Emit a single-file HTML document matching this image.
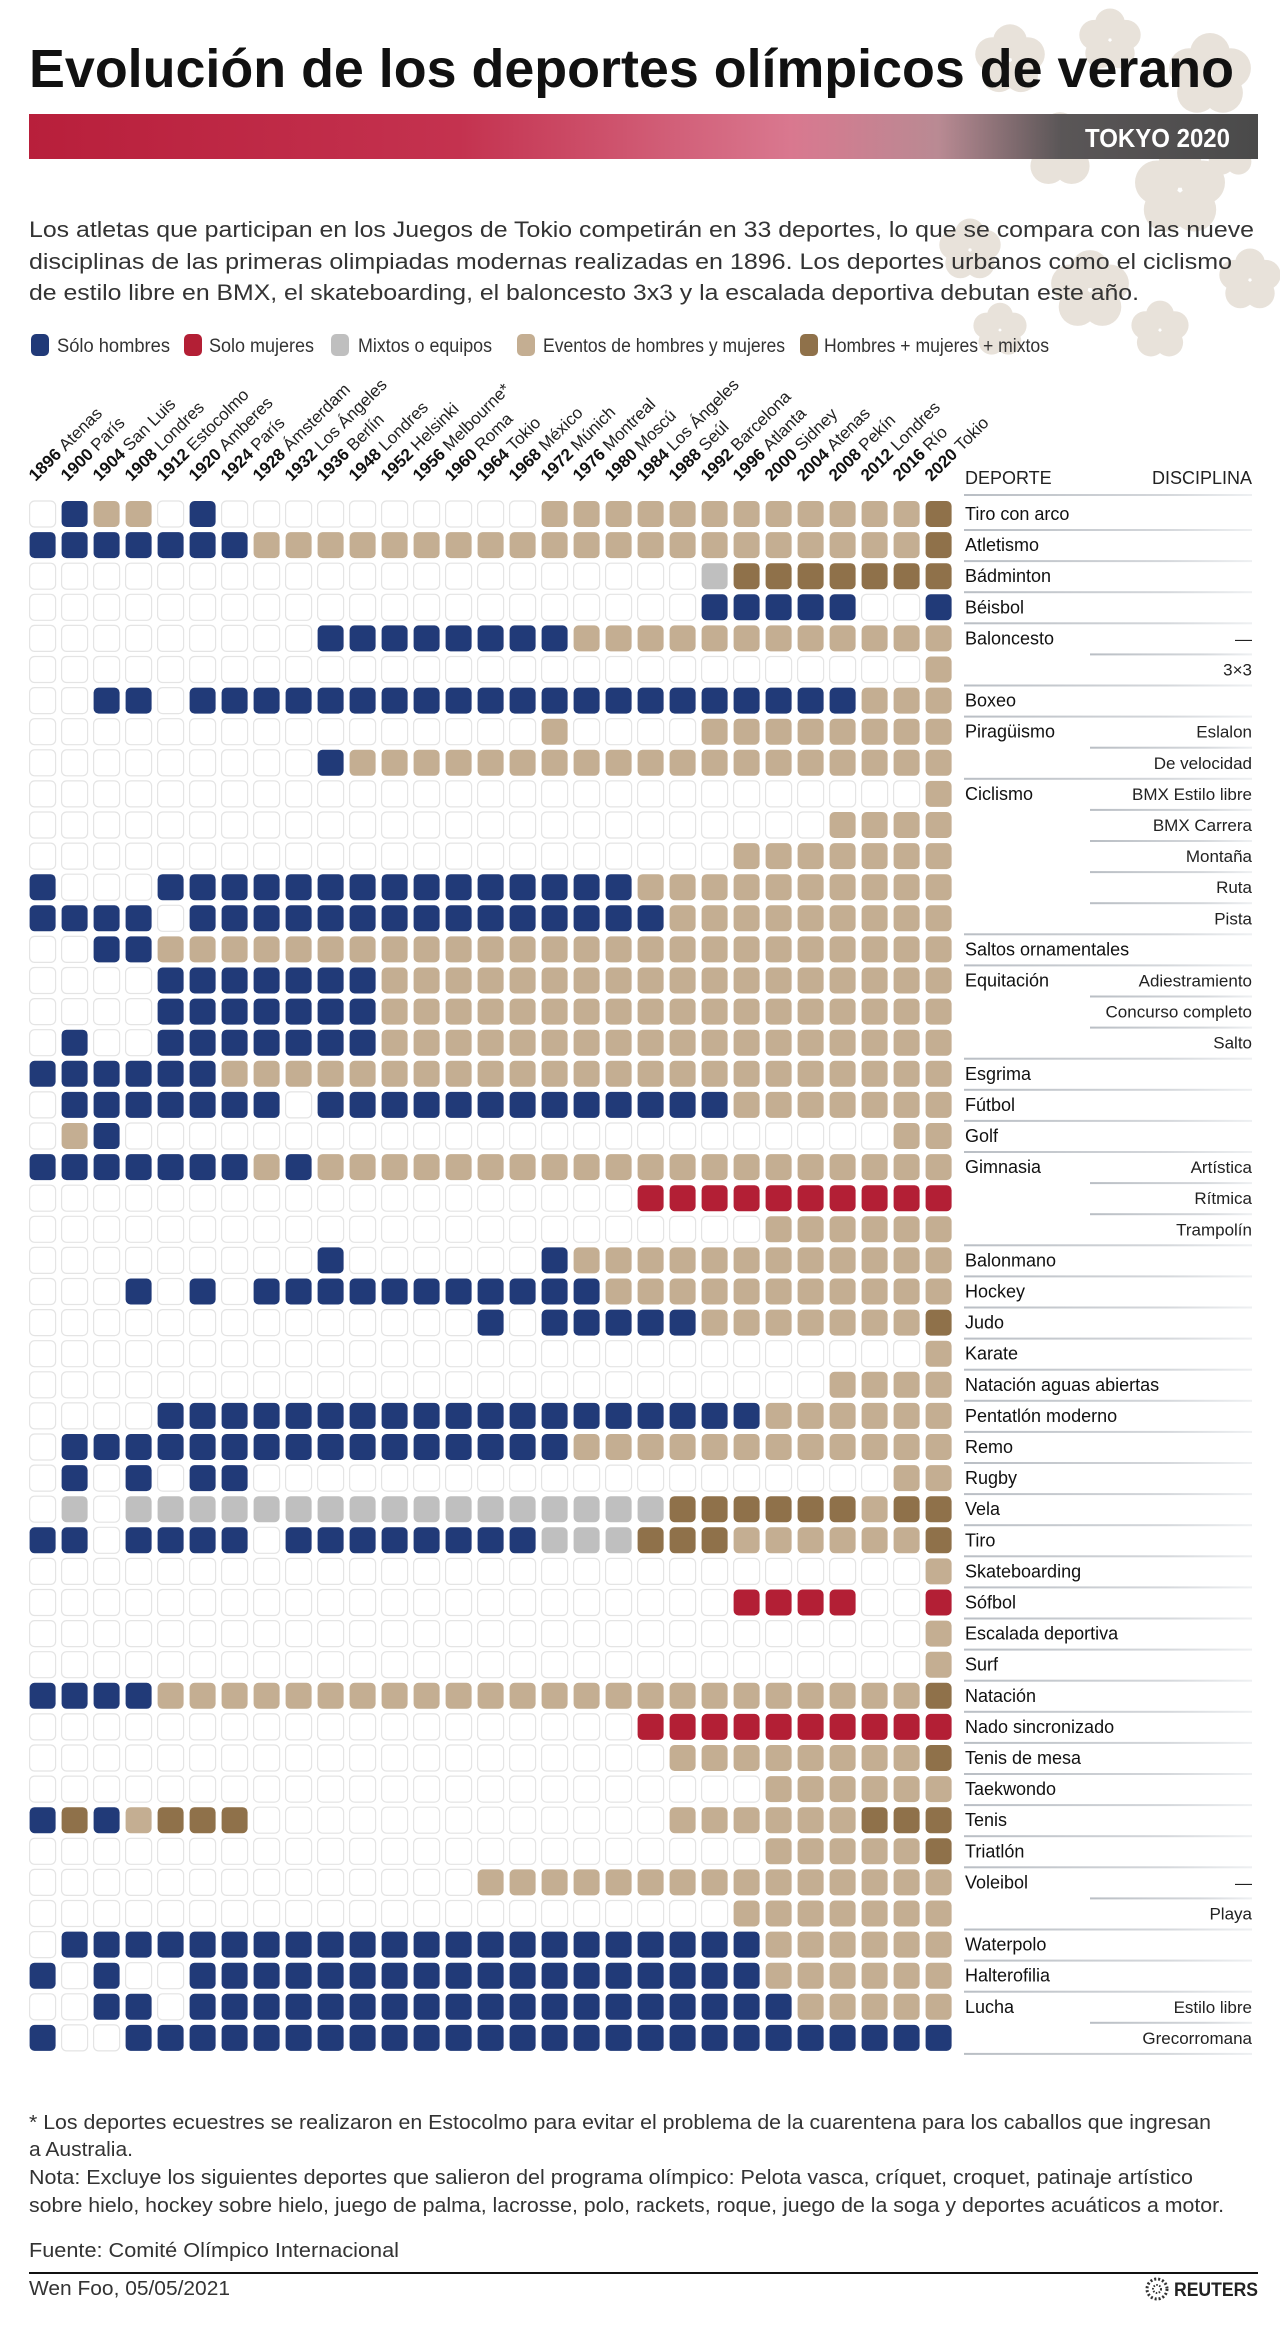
<!DOCTYPE html>
<html lang="es">
<head>
<meta charset="utf-8">
<title>Evolución de los deportes olímpicos de verano</title>
<style>
  html,body{margin:0;padding:0;background:#fff;}
  svg{display:block;}
  text{font-family:"Liberation Sans", sans-serif;}
</style>
</head>
<body>
<svg id="chart" width="1280" height="2330" viewBox="0 0 1280 2330" xmlns="http://www.w3.org/2000/svg">
  <defs>
    <linearGradient id="bannerGrad" x1="0" x2="1" y1="0" y2="0">
      <stop offset="0" stop-color="#b81f3b"/>
      <stop offset="0.35" stop-color="#c4324f"/>
      <stop offset="0.62" stop-color="#d9788f"/>
      <stop offset="0.74" stop-color="#b98a93"/>
      <stop offset="0.84" stop-color="#5a5657"/>
      <stop offset="1" stop-color="#4a4a4a"/>
    </linearGradient>
    <linearGradient id="divGrad" x1="0" x2="1" y1="0" y2="0">
      <stop offset="0" stop-color="#b9bec4"/>
      <stop offset="0.7" stop-color="#d4d7db"/>
      <stop offset="1" stop-color="#eef0f2"/>
    </linearGradient>
  </defs>

  <g id="sakura" fill="#d6cbbd" opacity="0.55"></g>

  <text x="29" y="87" font-size="54" font-weight="bold" fill="#111" textLength="1205" lengthAdjust="spacingAndGlyphs">Evolución de los deportes olímpicos de verano</text>

  <rect x="29" y="114" width="1229" height="45" fill="url(#bannerGrad)"/>
  <text x="1230" y="147" font-size="26" font-weight="bold" fill="#fff" text-anchor="end" textLength="145" lengthAdjust="spacingAndGlyphs">TOKYO 2020</text>

  <g fill="#333" font-size="22">
    <text x="29" y="237" textLength="1225" lengthAdjust="spacingAndGlyphs">Los atletas que participan en los Juegos de Tokio competirán en 33 deportes, lo que se compara con las nueve</text>
    <text x="29" y="269" textLength="1203" lengthAdjust="spacingAndGlyphs">disciplinas de las primeras olimpiadas modernas realizadas en 1896. Los deportes urbanos como el ciclismo</text>
    <text x="29" y="300" textLength="1110" lengthAdjust="spacingAndGlyphs">de estilo libre en BMX, el skateboarding, el baloncesto 3x3 y la escalada deportiva debutan este año.</text>
  </g>

  <g id="legend" font-size="19" fill="#333">
    <rect x="31" y="334" width="18" height="22" rx="5" fill="#213a78"/>
    <text x="57" y="352" textLength="113" lengthAdjust="spacingAndGlyphs">Sólo hombres</text>
    <rect x="184" y="334" width="18" height="22" rx="5" fill="#b31f35"/>
    <text x="209" y="352" textLength="105" lengthAdjust="spacingAndGlyphs">Solo mujeres</text>
    <rect x="331" y="334" width="18" height="22" rx="5" fill="#bfbfbf"/>
    <text x="358" y="352" textLength="134" lengthAdjust="spacingAndGlyphs">Mixtos o equipos</text>
    <rect x="517" y="334" width="18" height="22" rx="5" fill="#c4ae92"/>
    <text x="543" y="352" textLength="242" lengthAdjust="spacingAndGlyphs">Eventos de hombres y mujeres</text>
    <rect x="800" y="334" width="18" height="22" rx="5" fill="#8f714a"/>
    <text x="824" y="352" textLength="225" lengthAdjust="spacingAndGlyphs">Hombres + mujeres + mixtos</text>
  </g>

  <g id="yearLabels"></g>

  <text x="965" y="484" font-size="18" fill="#222">DEPORTE</text>
  <text x="1252" y="484" font-size="18" fill="#222" text-anchor="end">DISCIPLINA</text>
  <rect x="964" y="494" width="288" height="2" fill="url(#divGrad)"/>

  <g id="grid"></g>
  <g id="rowLabels"></g>

  <g fill="#333" font-size="20">
    <text x="29" y="2129" textLength="1182" lengthAdjust="spacingAndGlyphs">* Los deportes ecuestres se realizaron en Estocolmo para evitar el problema de la cuarentena para los caballos que ingresan</text>
    <text x="29" y="2156" textLength="104" lengthAdjust="spacingAndGlyphs">a Australia.</text>
    <text x="29" y="2184" textLength="1164" lengthAdjust="spacingAndGlyphs">Nota: Excluye los siguientes deportes que salieron del programa olímpico: Pelota vasca, críquet, croquet, patinaje artístico</text>
    <text x="29" y="2212" textLength="1195" lengthAdjust="spacingAndGlyphs">sobre hielo, hockey sobre hielo, juego de palma, lacrosse, polo, rackets, roque, juego de la soga y deportes acuáticos a motor.</text>
    <text x="29" y="2257" textLength="370" lengthAdjust="spacingAndGlyphs">Fuente: Comité Olímpico Internacional</text>
  </g>
  <rect x="29" y="2272" width="1229" height="2" fill="#111"/>
  <text x="29" y="2295" font-size="20" fill="#333" textLength="201" lengthAdjust="spacingAndGlyphs">Wen Foo, 05/05/2021</text>
  <g>
    <circle cx="1157" cy="2289" r="10" fill="none" stroke="#333" stroke-width="3" stroke-dasharray="2 2"/>
    <circle cx="1157" cy="2289" r="4" fill="none" stroke="#333" stroke-width="2" stroke-dasharray="1.5 1.5"/>
    <text x="1258" y="2296" font-size="19" font-weight="bold" fill="#222" text-anchor="end" textLength="84" lengthAdjust="spacingAndGlyphs">REUTERS</text>
  </g>
</svg>

<script>
const years = ["1896","1900","1904","1908","1912","1920","1924","1928","1932","1936","1948","1952","1956","1960","1964","1968","1972","1976","1980","1984","1988","1992","1996","2000","2004","2008","2012","2016","2020"];
const cities = ["Atenas","París","San Luis","Londres","Estocolmo","Amberes","París","Ámsterdam","Los Ángeles","Berlín","Londres","Helsinki","Melbourne*","Roma","Tokio","México","Múnich","Montreal","Moscú","Los Ángeles","Seúl","Barcelona","Atlanta","Sidney","Atenas","Pekín","Londres","Río","Tokio"];
const sports = ["Tiro con arco","Atletismo","Bádminton","Béisbol","Baloncesto","","Boxeo","Piragüismo","","Ciclismo","","","","","Saltos ornamentales","Equitación","","","Esgrima","Fútbol","Golf","Gimnasia","","","Balonmano","Hockey","Judo","Karate","Natación aguas abiertas","Pentatlón moderno","Remo","Rugby","Vela","Tiro","Skateboarding","Sófbol","Escalada deportiva","Surf","Natación","Nado sincronizado","Tenis de mesa","Taekwondo","Tenis","Triatlón","Voleibol","","Waterpolo","Halterofilia","Lucha",""];
const disciplines = ["","","","","—","3×3","","Eslalon","De velocidad","BMX Estilo libre","BMX Carrera","Montaña","Ruta","Pista","","Adiestramiento","Concurso completo","Salto","","","","Artística","Rítmica","Trampolín","","","","","","","","","","","","","","","","","","","","","—","Playa","","","Estilo libre","Grecorromana"];
// M = sólo hombres, W = solo mujeres, G = mixtos o equipos, B = hombres y mujeres, X = hombres + mujeres + mixtos, . = no celebrado
const cellStatus = [
".MBB.M..........BBBBBBBBBBBBX",
"MMMMMMMBBBBBBBBBBBBBBBBBBBBBX",
".....................GXXXXXXX",
".....................MMMMM..M",
".........MMMMMMMMBBBBBBBBBBBB",
"............................B",
"..MM.MMMMMMMMMMMMMMMMMMMMMBBB",
"................B....BBBBBBBB",
".........MBBBBBBBBBBBBBBBBBBB",
"............................B",
".........................BBBB",
"......................BBBBBBB",
"M...MMMMMMMMMMMMMMMBBBBBBBBBB",
"MMMM.MMMMMMMMMMMMMMMBBBBBBBBB",
"..MMBBBBBBBBBBBBBBBBBBBBBBBBB",
"....MMMMMMMBBBBBBBBBBBBBBBBBB",
"....MMMMMMMBBBBBBBBBBBBBBBBBB",
".M..MMMMMMMBBBBBBBBBBBBBBBBBB",
"MMMMMMBBBBBBBBBBBBBBBBBBBBBBB",
".MMMMMMM.MMMMMMMMMMMMMBBBBBBB",
".BM........................BB",
"MMMMMMMBMBBBBBBBBBBBBBBBBBBBB",
"...................WWWWWWWWWW",
".......................BBBBBB",
".........M......MBBBBBBBBBBBB",
"...M.M.MMMMMMMMMMMBBBBBBBBBBB",
"..............M.MMMMMBBBBBBBX",
"............................B",
".........................BBBB",
"....MMMMMMMMMMMMMMMMMMMBBBBBB",
".MMMMMMMMMMMMMMMMBBBBBBBBBBBB",
".M.M.MM....................BB",
".G.GGGGGGGGGGGGGGGGGXXXXXXBXX",
"MM.MMMM.MMMMMMMMGGGXXXBBBBBBX",
"............................B",
"......................WWWW..W",
"............................B",
"............................B",
"MMMMBBBBBBBBBBBBBBBBBBBBBBBBX",
"...................WWWWWWWWWW",
"....................BBBBBBBBX",
".......................BBBBBB",
"MXMBXXX.............BBBBBBXXX",
".......................BBBBBX",
"..............BBBBBBBBBBBBBBB",
"......................BBBBBBB",
".MMMMMMMMMMMMMMMMMMMMMMBBBBBB",
"M.M..MMMMMMMMMMMMMMMMMMBBBBBB",
"..MM.MMMMMMMMMMMMMMMMMMMBBBBB",
"M..MMMMMMMMMMMMMMMMMMMMMMMMMM"
];
const statusColors = {M:"#213a78", W:"#b31f35", G:"#bfbfbf", B:"#c4ae92", X:"#8f714a"};

const NS = "http://www.w3.org/2000/svg";
const colX = i => 42.6 + 32 * i;      // column centre
const rowY = r => 514 + 31.1 * r;     // row centre
const CW = 26, CH = 26;

const grid = document.getElementById('grid');
for (let r = 0; r < cellStatus.length; r++) {
  for (let c = 0; c < years.length; c++) {
    const s = cellStatus[r][c] || '.';
    const rect = document.createElementNS(NS, 'rect');
    rect.setAttribute('x', (colX(c) - CW / 2).toFixed(1));
    rect.setAttribute('y', (rowY(r) - CH / 2).toFixed(1));
    rect.setAttribute('width', CW);
    rect.setAttribute('height', CH);
    rect.setAttribute('rx', 5);
    if (s === '.') {
      rect.setAttribute('fill', '#fff');
      rect.setAttribute('stroke', '#e4e4e4');
      rect.setAttribute('stroke-width', '1.2');
    } else {
      rect.setAttribute('fill', statusColors[s]);
    }
    
    
    grid.appendChild(rect);
  }
}

const yl = document.getElementById('yearLabels');
for (let c = 0; c < years.length; c++) {
  const t = document.createElementNS(NS, 'text');
  const x = colX(c) - 7, y = 482;
  t.setAttribute('transform', 'translate(' + x.toFixed(1) + ',' + y + ') rotate(-45)');
  t.setAttribute('font-size', '17');
  t.setAttribute('fill', '#111');
  const b = document.createElementNS(NS, 'tspan');
  b.setAttribute('font-weight', 'bold');
  b.textContent = years[c] + ' ';
  const n = document.createElementNS(NS, 'tspan');
  n.setAttribute('fill', '#222');
  n.textContent = cities[c];
  t.appendChild(b); t.appendChild(n);
  
  
  yl.appendChild(t);
}

const rl = document.getElementById('rowLabels');
for (let r = 0; r < sports.length; r++) {
  const cy = rowY(r);
  if (sports[r]) {
    const t = document.createElementNS(NS, 'text');
    t.setAttribute('x', 965);
    t.setAttribute('y', (cy + 6).toFixed(1));
    t.setAttribute('font-size', '18');
    t.setAttribute('fill', '#111');
    t.textContent = sports[r];
    
    
    rl.appendChild(t);
  }
  if (disciplines[r]) {
    const t = document.createElementNS(NS, 'text');
    t.setAttribute('x', 1252);
    t.setAttribute('y', (cy + 6).toFixed(1));
    t.setAttribute('font-size', '17');
    t.setAttribute('fill', '#222');
    t.setAttribute('text-anchor', 'end');
    t.textContent = disciplines[r];
    
    
    rl.appendChild(t);
  }
  const nextIsSub = (r + 1 < sports.length) && !sports[r + 1];
  const x0 = nextIsSub ? 1090 : 964;
  const d = document.createElementNS(NS, 'rect');
  d.setAttribute('x', x0);
  d.setAttribute('y', (cy + 15).toFixed(1));
  d.setAttribute('width', 1252 - x0);
  d.setAttribute('height', 2);
  d.setAttribute('fill', 'url(#divGrad)');
  
  
  rl.appendChild(d);
}

// decorative sakura blossoms (top right)
const sak = document.getElementById('sakura');
const flowers = [[1010,60,34],[1110,40,30],[1210,75,40],[1060,150,36],[1180,190,44],[1250,280,30],[970,250,30],[1090,290,38],[1000,330,26],[1160,330,28],[1230,150,26]];
flowers.forEach(f => {
  for (let k = 0; k < 5; k++) {
    const a = k * 2 * Math.PI / 5 - Math.PI / 2;
    const c = document.createElementNS(NS, 'circle');
    c.setAttribute('cx', (f[0] + Math.cos(a) * f[2] * 0.55).toFixed(1));
    c.setAttribute('cy', (f[1] + Math.sin(a) * f[2] * 0.55).toFixed(1));
    c.setAttribute('r', (f[2] * 0.5).toFixed(1));
    
    
    sak.appendChild(c);
  }
});
</script>
</body>
</html>
